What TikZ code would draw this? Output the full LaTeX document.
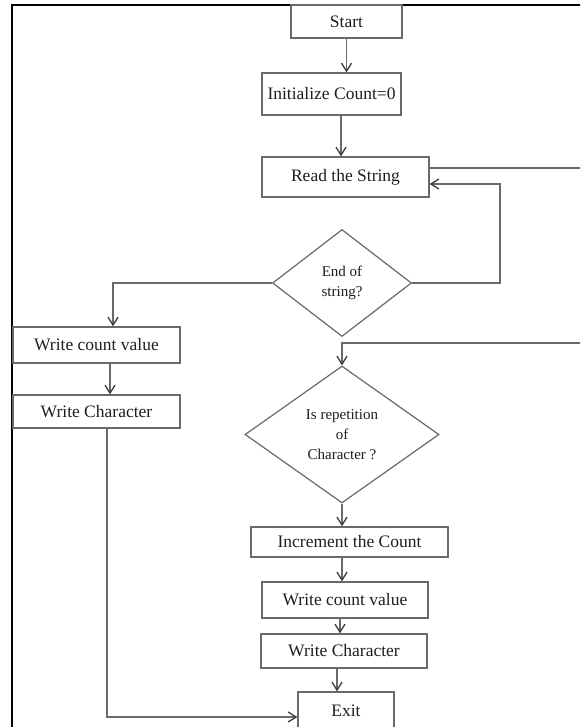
\documentclass[tikz,border=0pt]{standalone}
\usepackage{fontspec}
\setmainfont{Liberation Serif}
\usetikzlibrary{shapes.geometric,arrows.meta,calc}
\definecolor{ln}{RGB}{105,105,105}
\definecolor{tip}{RGB}{60,60,60}
\definecolor{txt}{RGB}{30,30,30}
\begin{document}
\begin{tikzpicture}[x=1pt,y=-1pt,
  box/.style={draw=ln,line width=1.3pt,rectangle,inner sep=0pt,text=txt,
              font=\fontsize{17.5}{20}\selectfont},
  dia/.style={draw=ln,line width=1.2pt,diamond,inner sep=0pt,align=center,text=txt,
              font=\fontsize{15}{20}\selectfont},
  con/.style={draw=ln,line width=1.3pt},
  arr/.style={con,-{Straight Barb[length=8pt,width=10pt,color=tip]}},
  frame/.style={draw=black,line width=2.4pt}]
\useasboundingbox (0,0) rectangle (580,727);
\clip (0,0) rectangle (580,727);
\fill[white] (0,0) rectangle (580,727);

% frame
\draw[frame] (582,5) -- (12,5) -- (12,729);

% nodes
\node[box,minimum width=111pt,minimum height=33pt] (start) at (346.5,21.5) {Start};
\node[box,minimum width=139pt,minimum height=42pt] (init) at (331.5,94) {Initialize Count=0};
\node[box,minimum width=167pt,minimum height=40pt] (read) at (345.5,177) {Read the String};
\node[dia,minimum width=139pt,minimum height=107pt] (endq) at (342,283) {End of\\string?};
\node[box,minimum width=167pt,minimum height=36pt] (wcv1) at (96.5,345) {Write count value};
\node[box,minimum width=167pt,minimum height=33pt] (wc1) at (96.5,411.5) {Write Character};
\node[dia,minimum width=194pt,minimum height=137pt] (rep) at (342,434.5) {Is repetition\\of\\Character ?};
\node[box,minimum width=197pt,minimum height=30pt] (inc) at (349.5,542) {Increment the Count};
\node[box,minimum width=166pt,minimum height=36pt] (wcv2) at (345,600) {Write count value};
\node[box,minimum width=166pt,minimum height=34pt] (wc2) at (344,651) {Write Character};
\node[box,minimum width=96pt,minimum height=37pt] (exit) at (346,710.5) {Exit};

% free ends at the right edge
\coordinate (rOut) at (582,168);
\coordinate (rIn) at (582,343);
\coordinate (loopc) at (500,184);

% connectors
\draw[arr] (start.south) -- (start.south |- init.north);
\draw[arr] ([xshift=9.5pt]init.south) -- ([xshift=9.5pt]init.south |- read.north);
\draw[con] (rOut -| read.east) -- (rOut);
\draw[arr] (endq.east) -| (loopc) -- (loopc -| read.east);
\draw[arr] (endq.west) -| ([xshift=16.5pt]wcv1.north);
\draw[arr] ([xshift=13.5pt]wcv1.south) -- ([xshift=13.5pt]wc1.north);
\draw[arr] ([xshift=10.5pt]wc1.south) |- ([yshift=-6.5pt]exit.west);
\draw[arr] (rIn) -| (rep.north);
\draw[arr] (rep.south) -- (rep.south |- inc.north);
\draw[arr] (rep.south |- inc.south) -- (rep.south |- wcv2.north);
\draw[arr] ([xshift=-2pt]rep.south |- wcv2.south) -- ([xshift=-2pt]rep.south |- wc2.north);
\draw[arr] ([xshift=-5pt]rep.south |- wc2.south) -- ([xshift=-5pt]rep.south |- exit.north);
\end{tikzpicture}
\end{document}
